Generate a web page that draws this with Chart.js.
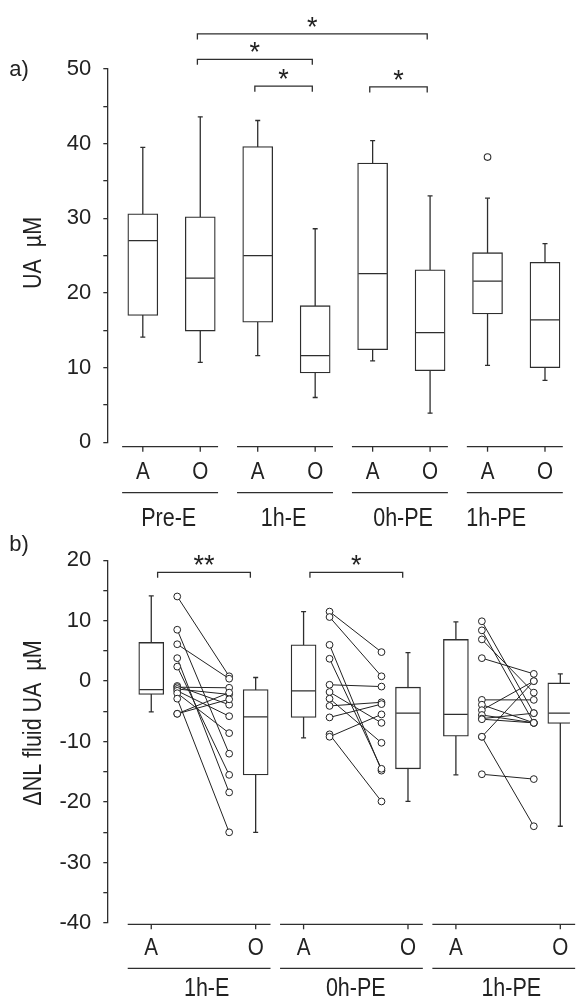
<!DOCTYPE html>
<html>
<head>
<meta charset="utf-8">
<script src="https://cdn.jsdelivr.net/npm/chart.js@4.4.1/dist/chart.umd.min.js"></script>
<style>
  html, body { margin: 0; padding: 0; background: #fff; }
  .panel { position: absolute; left: 0; width: 583px; }
  #panelA { top: 0; height: 535px; }
  #panelB { top: 535px; height: 462px; }
</style>
</head>
<body>
<div class="panel" id="panelA"><canvas id="chartA" width="583" height="535"></canvas></div>
<div class="panel" id="panelB"><canvas id="chartB" width="583" height="462"></canvas></div>
<script>
// ---- panel a: UA concentration, boxes in order A/O for each time point
const groupsA = ['Pre-E', '1h-E', '0h-PE', '1h-PE'];
const subLabels = ['A', 'O'];
const uaWhiskLo = [14.1, 10.7, 11.6, 6.0, 10.9, 3.9, 10.3, 8.3];
const uaQ1      = [17.0, 14.9, 16.1, 9.3, 12.4, 9.6, 17.2, 10.0];
const uaMed     = [27.0, 22.0, 25.0, 11.6, 22.6, 14.7, 21.6, 16.4];
const uaQ3      = [30.6, 30.2, 39.6, 18.3, 37.4, 23.1, 25.4, 24.1];
const uaWhiskHi = [39.5, 43.6, 43.1, 28.6, 40.4, 33.0, 32.7, 26.6];
const uaOutliers = [[6, 38.2]];
// [from box, to box, bracket level, mark]
const uaSig = [[1, 5, 54.7, '*'], [1, 3, 51.3, '*'], [2, 3, 47.7, '*'], [4, 5, 47.6, '*']];

// ---- panel b: change in NL fluid UA, boxes A1,O1,A2,O2,A3,O3
const groupsB = ['1h-E', '0h-PE', '1h-PE'];
const dWhiskLo = [-5.1, -25.0, -9.4, -19.9, -15.5, -24.0];
const dQ1      = [-2.2, -15.5, -6.0, -14.5, -9.1, -7.0];
const dMed     = [-1.4, -5.9, -1.6, -5.3, -5.5, -5.3];
const dQ3      = [6.4, -1.4, 6.0, -1.0, 6.9, -0.3];
const dWhiskHi = [14.1, 0.6, 11.5, 4.7, 9.8, 1.2];
// paired individual values (A -> O)
const pair1hE_A  = [14.0, 8.5, 6.1, 3.8, 2.4, -0.8, -1.0, -1.3, -1.6, -2.0, -2.9, -5.4, -5.4];
const pair1hE_O  = [0.8, -12.0, 0.4, -18.4, -15.5, -3.9, -1.1, -2.2, -5.8, -8.6, -25.0, -1.9, -3.0];
const pair0hPE_A = [11.5, 10.6, 6.0, 3.7, -0.6, -1.8, -2.9, -4.1, -6.0, -8.8, -9.2];
const pair0hPE_O = [4.8, 0.8, -14.8, -14.5, -0.9, -6.9, -10.2, -3.5, -3.8, -19.9, -5.5];
const pair1hPE_A = [9.9, 8.4, 6.9, 3.8, -3.1, -3.9, -4.8, -5.6, -6.2, -6.3, -9.2, -9.2, -15.4];
const pair1hPE_O = [-5.3, -6.9, -1.9, 1.2, -3.1, -6.9, 0.0, -6.9, -5.3, -6.9, 0.0, -24.0, -16.2];
const pairsA = [pair1hE_A, pair0hPE_A, pair1hPE_A];
const pairsO = [pair1hE_O, pair0hPE_O, pair1hPE_O];
const dSig = [[0, 1, 18.0, '**'], [2, 3, 18.0, '*']];

const lineColor = '#2e2e2e';
const textColor = '#222';
const tickFont = '"Liberation Sans", Arial, sans-serif';

function hasFont(name) {
  const c = document.createElement('canvas').getContext('2d');
  c.font = '40px monospace';
  const w0 = c.measureText('Pre-E 0h-PE abc').width;
  c.font = '40px "' + name + '", monospace';
  return c.measureText('Pre-E 0h-PE abc').width !== w0;
}
const narrow = hasFont('Liberation Sans Narrow');
const labelFont = narrow ? '"Liberation Sans Narrow", sans-serif' : tickFont;
const squeeze = narrow ? 1 : 0.86;

function seg(ctx, x0, y0, x1, y1) {
  ctx.beginPath(); ctx.moveTo(x0, y0); ctx.lineTo(x1, y1); ctx.stroke();
}

// text centred on its glyph box
function drawText(ctx, text, cx, cy, size, vertical, family, sx) {
  ctx.save();
  ctx.font = size + 'px ' + (family || labelFont);
  ctx.textAlign = 'center';
  ctx.textBaseline = 'alphabetic';
  const m = ctx.measureText(text);
  const off = (m.actualBoundingBoxAscent - m.actualBoundingBoxDescent) / 2;
  ctx.translate(cx, cy);
  if (vertical) ctx.rotate(-Math.PI / 2);
  ctx.scale(sx || squeeze, 1);
  ctx.fillText(text, 0, off);
  ctx.restore();
}

function makeDecor(cfg) {
  return {
    id: 'decor',
    afterDraw(chart) {
      const ctx = chart.ctx, x = chart.scales.x, y = chart.scales.y;
      ctx.save();
      ctx.strokeStyle = lineColor;
      ctx.fillStyle = textColor;
      ctx.lineWidth = 1.3;
      cfg.groups.forEach((name, i) => {
        const a = cfg.posOf(2 * i), o = cfg.posOf(2 * i + 1);
        const x0 = x.getPixelForValue(a - cfg.segL), x1 = x.getPixelForValue(o + cfg.segR);
        seg(ctx, x0, cfg.axisY, x1, cfg.axisY);
        seg(ctx, x0, cfg.lowerY, x1, cfg.lowerY);
        [a, o].forEach((v, k) => {
          const px = x.getPixelForValue(v);
          seg(ctx, px, cfg.axisY, px, cfg.axisY + 5);
          drawText(ctx, subLabels[k], px, cfg.subY, cfg.subSize);
        });
        drawText(ctx, name, x.getPixelForValue((a + o) / 2 + cfg.labelShift[i]), cfg.groupY, cfg.groupSize);
      });
      cfg.sig.forEach(([from, to, level, mark]) => {
        const xa = x.getPixelForValue(cfg.posOf(from) + cfg.sigInset[0]);
        const xb = x.getPixelForValue(cfg.posOf(to) + cfg.sigInset[1]);
        const yy = y.getPixelForValue(level);
        ctx.beginPath();
        ctx.moveTo(xa, yy + 5.5); ctx.lineTo(xa, yy); ctx.lineTo(xb, yy); ctx.lineTo(xb, yy + 5.5);
        ctx.stroke();
        drawText(ctx, mark, (xa + xb) / 2, yy - 12, 27, false, tickFont, 1);
      });
      drawText(ctx, cfg.letter, 19, cfg.letterY, 22, false, tickFont, 1);
      drawText(ctx, cfg.yTitle, 34, cfg.titleY, 25, true);
      ctx.restore();
    }
  };
}

function boxDatasets(pos, lo, q1, med, q3, hi, width) {
  const whisk = [];
  pos.forEach((x, i) => whisk.push({x, y: lo[i]}, {x, y: hi[i]}, {x, y: null}));
  return [
    {type: 'line', data: whisk, borderColor: lineColor, borderWidth: 1.3, pointRadius: 0, spanGaps: false, order: 3},
    {type: 'bar', data: pos.map((x, i) => ({x, y: [q1[i], q3[i]]})), backgroundColor: '#fff',
      borderColor: lineColor, borderWidth: 1.3, borderSkipped: false, barThickness: width, grouped: false, order: 2},
    {type: 'scatter', data: pos.map((x, i) => ({x, y: med[i]})), pointStyle: 'line', pointRadius: width / 2 - 0.7,
      borderColor: lineColor, borderWidth: 1.3, order: 1},
    {type: 'scatter', data: pos.flatMap((x, i) => [{x, y: lo[i]}, {x, y: hi[i]}]), pointStyle: 'line', pointRadius: 2.5,
      borderColor: lineColor, borderWidth: 1.3, order: 1}
  ];
}

function yAxis(min, max) {
  return {
    type: 'linear', min, max,
    ticks: {stepSize: 5, color: textColor, padding: 12, font: {family: tickFont, size: 22},
      callback: v => (v % 10 === 0 ? v : '')},
    grid: {drawOnChartArea: false, tickLength: 4, color: lineColor, lineWidth: 1.3},
    border: {color: lineColor, width: 1.3},
    afterFit(s) { s.width = 107.3; }
  };
}

const baseOptions = {
  responsive: false,
  animation: false,
  events: [],
  plugins: {legend: {display: false}, tooltip: {enabled: false}}
};

// ---- chart a
const posA = i => i;
const dsA = boxDatasets(uaMed.map((_, i) => posA(i)), uaWhiskLo, uaQ1, uaMed, uaQ3, uaWhiskHi, 30);
dsA.push({type: 'scatter', data: uaOutliers.map(([i, v]) => ({x: posA(i), y: v})), pointStyle: 'circle',
  pointRadius: 3.3, backgroundColor: '#fff', borderColor: lineColor, borderWidth: 1.1, order: 0});

new Chart(document.getElementById('chartA'), {
  type: 'scatter',
  data: {datasets: dsA},
  options: Object.assign({}, baseOptions, {
    layout: {padding: {top: 69, bottom: 92.7, left: 0, right: 0}},
    scales: {
      x: {type: 'linear', min: -0.618, max: 7.39, offset: false, display: false, grid: {offset: false}},
      y: yAxis(0, 50)
    }
  }),
  plugins: [makeDecor({
    groups: groupsA, posOf: posA, segL: 0.36, segR: 0.31,
    axisY: 446.7, subY: 470.7, lowerY: 492.7, groupY: 516.7, subSize: 24, groupSize: 25,
    labelShift: [-0.05, -0.05, 0.03, -0.35],
    sig: uaSig, sigInset: [-0.05, -0.05],
    letter: 'a)', letterY: 70, yTitle: 'UA  \u00b5M', titleY: 253
  })]
});

// ---- chart b
const posB = j => Math.floor(j / 2) * 1.437 + (j % 2) * 0.985;
const dsB = boxDatasets(dMed.map((_, j) => posB(j)), dWhiskLo, dQ1, dMed, dQ3, dWhiskHi, 25);
pairsA.forEach((aVals, g) => {
  const base = posB(2 * g);
  const pts = [];
  aVals.forEach((v, k) => pts.push({x: base + 0.245, y: v}, {x: base + 0.735, y: pairsO[g][k]}, {x: base + 0.5, y: null}));
  dsB.push({type: 'line', data: pts, borderColor: '#222', borderWidth: 1, spanGaps: false,
    pointRadius: 3.4, pointBackgroundColor: '#fff', pointBorderColor: '#222', pointBorderWidth: 1, order: 0});
});

new Chart(document.getElementById('chartB'), {
  type: 'scatter',
  data: {datasets: dsB},
  options: Object.assign({}, baseOptions, {
    layout: {padding: {top: 13.3, bottom: 74, left: 0, right: 0}},
    scales: {
      x: {type: 'linear', min: -0.4147, max: 3.9495, offset: false, display: false, grid: {offset: false}},
      y: yAxis(-40, 20)
    }
  }),
  plugins: [makeDecor({
    groups: groupsB, posOf: posB, segL: 0.222, segR: 0.14,
    axisY: 389.3, subY: 411.7, lowerY: 433.3, groupY: 451.7, subSize: 24, groupSize: 25,
    labelShift: [0.03, 0, 0.03],
    sig: dSig, sigInset: [0.06, -0.05],
    letter: 'b)', letterY: 10, yTitle: '\u0394NL fluid UA  \u00b5M', titleY: 188
  })]
});
</script>
</body>
</html>
